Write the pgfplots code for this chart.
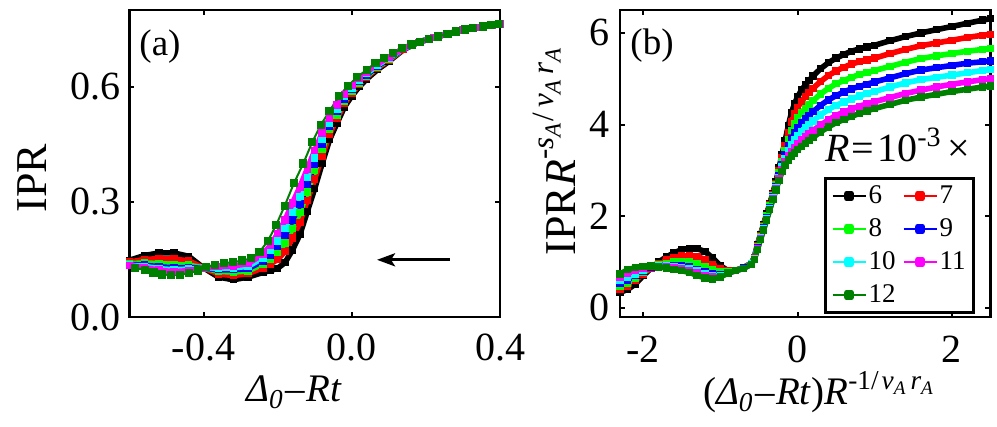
\documentclass[border=0pt]{standalone}
\usepackage{fontspec}
\setmainfont{Liberation Serif}
\usepackage{pgfplots}
\pgfplotsset{compat=1.18}
\usepackage{pgfplotstable}
\usetikzlibrary{arrows.meta}
\definecolor{dkg}{rgb}{0,0.5,0}
\definecolor{lgr}{rgb}{0,1,0}
\definecolor{cy}{rgb}{0,1,1}
\definecolor{mg}{rgb}{1,0,1}
\definecolor{rd}{rgb}{1,0,0}
\definecolor{bl}{rgb}{0,0,1}

\pgfplotstableread{
x b r g bl c m
-0.60 .148 .143 .139 .137 .135 .134
-0.56 .160 .150 .141 .135 .132 .129
-0.52 .167 .152 .139 .131 .126 .122
-0.48 .167 .151 .137 .128 .123 .118
-0.44 .158 .146 .135 .129 .125 .121
-0.40 .128 .128 .128 .127 .127 .127
-0.36 .104 .112 .119 .123 .127 .131
-0.32 .097 .108 .117 .123 .128 .133
-0.28 .104 .113 .120 .126 .132 .139
-0.24 .116 .128 .138 .146 .154 .163
-0.22 .121 .138 .151 .162 .173 .186
-0.20 .127 .150 .168 .184 .198 .217
-0.18 .142 .171 .193 .213 .231 .253
-0.16 .175 .206 .231 .253 .272 .297
-0.14 .215 .247 .272 .293 .314 .339
-0.12 .275 .304 .326 .346 .364 .386
-0.10 .335 .360 .381 .398 .414 .434
-0.08 .400 .420 .436 .450 .463 .479
-0.06 .462 .476 .488 .497 .506 .518
-0.04 .505 .517 .526 .535 .542 .552
-0.02 .547 .556 .562 .568 .574 .580
0.00 .576 .583 .588 .593 .597 .603
0.02 .600 .606 .610 .614 .617 .621
0.04 .620 .625 .628 .631 .634 .638
0.07 .645 .649 .652 .654 .657 .660
0.10 .666 .669 .671 .673 .675 .677
0.14 .697 .698 .699 .699 .700 .701
0.18 .716 .716 .716 .716 .716 .716
0.22 .728 .728 .728 .728 .728 .728
0.26 .738 .738 .738 .738 .738 .738
0.30 .748 .748 .748 .748 .748 .748
0.34 .755 .755 .755 .755 .755 .755
0.38 .761 .761 .761 .761 .761 .761
0.40 .764 .764 .764 .764 .764 .764
}\lefttab

\pgfplotstableread{
x b r g bl c m k
-2.3 .34 .41 .47 .54 .59 .67 .74
-2.2 .40 .48 .54 .61 .67 .75 .83
-2.1 .52 .59 .64 .70 .74 .82 .88
-2.0 .70 .74 .77 .80 .82 .86 .90
-1.9 .86 .87 .88 .89 .90 .90 .91
-1.8 1.00 .97 .94 .92 .91 .90 .89
-1.7 1.11 1.04 .97 .93 .91 .89 .87
-1.6 1.20 1.09 1.00 .92 .89 .87 .84
-1.5 1.27 1.13 1.01 .92 .88 .85 .81
-1.4 1.30 1.14 1.00 .89 .85 .81 .77
-1.3 1.29 1.12 .96 .84 .80 .76 .71
-1.2 1.23 1.06 .90 .78 .74 .70 .65
-1.1 1.09 .95 .83 .74 .70 .67 .63
-1.0 .92 .85 .78 .73 .71 .69 .67
-0.9 .81 .80 .78 .77 .77 .76 .76
-0.8 .82 .82 .82 .81 .81 .81 .81
-0.7 .88 .88 .87 .87 .86 .86 .86
-0.6 .97 .97 .96 .96 .96 .95 .95
-0.56 1.10 1.09 1.08 1.08 1.07 1.06 1.06
-0.52 1.38 1.36 1.34 1.32 1.30 1.28 1.27
-0.48 1.60 1.58 1.56 1.54 1.52 1.50 1.49
-0.44 1.82 1.80 1.77 1.75 1.73 1.71 1.70
-0.40 2.05 2.02 2.00 1.97 1.95 1.93 1.92
-0.36 2.27 2.24 2.22 2.19 2.17 2.15 2.14
-0.32 2.50 2.47 2.44 2.42 2.40 2.38 2.36
-0.28 2.75 2.71 2.68 2.65 2.62 2.59 2.57
-0.24 3.05 3.00 2.94 2.89 2.85 2.81 2.78
-0.20 3.35 3.27 3.20 3.13 3.07 3.01 2.97
-0.16 3.65 3.54 3.44 3.34 3.26 3.18 3.12
-0.12 3.97 3.82 3.67 3.54 3.43 3.31 3.23
-0.08 4.25 4.06 3.87 3.70 3.56 3.41 3.31
-0.04 4.45 4.24 4.02 3.83 3.67 3.50 3.38
0.00 4.60 4.37 4.14 3.93 3.76 3.58 3.45
0.05 4.75 4.50 4.26 4.04 3.85 3.66 3.52
0.10 4.86 4.61 4.35 4.12 3.93 3.73 3.59
0.15 4.96 4.70 4.44 4.20 4.00 3.79 3.65
0.20 5.06 4.79 4.52 4.28 4.08 3.87 3.72
0.30 5.22 4.94 4.67 4.42 4.21 3.99 3.84
0.40 5.35 5.07 4.79 4.54 4.33 4.10 3.95
0.50 5.45 5.17 4.89 4.63 4.42 4.20 4.04
0.60 5.53 5.25 4.96 4.71 4.49 4.27 4.11
0.70 5.60 5.32 5.03 4.78 4.56 4.34 4.18
0.80 5.65 5.37 5.09 4.83 4.62 4.40 4.24
0.90 5.69 5.41 5.13 4.88 4.68 4.45 4.30
1.00 5.73 5.45 5.18 4.93 4.72 4.50 4.35
1.20 5.83 5.55 5.27 5.02 4.82 4.59 4.44
1.40 5.92 5.64 5.36 5.11 4.91 4.68 4.53
1.60 6.00 5.72 5.44 5.19 4.98 4.75 4.60
1.80 6.07 5.78 5.50 5.24 5.03 4.82 4.66
2.00 6.14 5.84 5.55 5.29 5.08 4.88 4.72
2.20 6.21 5.90 5.60 5.34 5.13 4.93 4.77
2.40 6.28 5.95 5.64 5.37 5.18 4.98 4.82
2.50 6.31 5.97 5.66 5.39 5.20 5.00 4.84
}\righttab

\pgfplotsset{
  panel/.style={
    scale only axis, width=185.25pt, height=153.5pt, anchor=south west,
    axis line style={line width=1.4pt},
    major tick length=2.5pt,
    every tick/.style={black, line width=1pt},
    tick label style={font=\fontsize{20}{24}\selectfont, inner sep=0pt},
  },
  band/.style={line width=2.8pt, line join=round, mark=square*, mark size=1.6pt, mark options={line width=0pt}},
}

\newcommand{\subA}{\raisebox{-0.22em}{\fontsize{11.5}{13}\selectfont\textit{A}}}

\begin{document}
\begin{tikzpicture}
\useasboundingbox (0,0) rectangle (498.5pt,213.5pt);

\begin{axis}[panel, at={(64.75pt,55pt)},
  xmin=-0.6, xmax=0.4, ymin=0, ymax=0.8,
  xtick={-0.4,0,0.4}, xticklabels={-0.4,0.0,0.4},
  ytick={0,0.3,0.6}, yticklabels={0.0,0.3,0.6},
  xticklabel style={yshift=-8.5pt}, yticklabel style={xshift=-4.2pt}]
\addplot[black, band] table[x=x,y=b]{\lefttab};
\addplot[rd, band] table[x=x,y=r]{\lefttab};
\addplot[lgr, band] table[x=x,y=g]{\lefttab};
\addplot[bl, band] table[x=x,y=bl]{\lefttab};
\addplot[cy, band] table[x=x,y=c]{\lefttab};
\addplot[mg, band] table[x=x,y=m]{\lefttab};
\addplot[dkg, line width=1pt, mark=square*, mark size=1.8pt, mark options={line width=0pt}] coordinates {
(-0.586,0.128) (-0.559,0.123) (-0.535,0.116) (-0.512,0.111) (-0.487,0.109) (-0.463,0.110)
(-0.440,0.114) (-0.415,0.121) (-0.393,0.130) (-0.370,0.136) (-0.345,0.140) (-0.321,0.143)
(-0.296,0.147) (-0.271,0.153) (-0.249,0.169) (-0.226,0.199) (-0.204,0.240) (-0.181,0.290)
(-0.156,0.349) (-0.131,0.400) (-0.107,0.455) (-0.084,0.500) (-0.060,0.537) (-0.035,0.575)
(-0.010,0.603) (0.015,0.625) (0.040,0.644) (0.064,0.662) (0.087,0.674) (0.112,0.688)
(0.136,0.700) (0.161,0.710) (0.184,0.717) (0.209,0.725) (0.233,0.731) (0.258,0.738)
(0.281,0.744) (0.305,0.749) (0.328,0.753) (0.353,0.757) (0.376,0.760) (0.398,0.764)};
\draw[line width=1.5pt, -{Stealth[length=9pt,width=6.5pt,inset=2pt]}] (axis cs:0.265,0.149) -- (axis cs:0.068,0.149);
\end{axis}

\begin{axis}[panel, at={(310pt,55pt)},
  xmin=-2.3, xmax=2.5, ymin=-0.2, ymax=6.5,
  xtick={-2,0,2}, xticklabels={-2,0,2},
  ytick={0,2,4,6}, yticklabels={0,2,4,6},
  xticklabel style={yshift=-9.5pt}, yticklabel style={xshift=-5pt},
  legend columns=2,
  legend cell align=left,
  legend style={at={(0.551,0.456)}, anchor=north west, draw=black, line width=1.5pt, fill=white,
    inner xsep=3pt, inner ysep=0.5pt, font=\fontsize{13.5}{16}\selectfont,
    nodes={inner xsep=1pt, inner ysep=1.75pt, text height=10pt, text depth=3pt},
    /tikz/every even column/.append style={column sep=2.5pt}},
  legend image code/.code={\draw[#1,line width=1pt] (0pt,0pt) -- (16.5pt,0pt);
    \fill[#1] (7pt,-1.1pt) rectangle (9.5pt,1.1pt);}]
\addplot[black, band] table[x=x,y=b]{\righttab};
\addplot[rd, band] table[x=x,y=r]{\righttab};
\addplot[lgr, band] table[x=x,y=g]{\righttab};
\addplot[bl, band] table[x=x,y=bl]{\righttab};
\addplot[cy, band] table[x=x,y=c]{\righttab};
\addplot[mg, band] table[x=x,y=m]{\righttab};
\addplot[dkg, band] table[x=x,y=k]{\righttab};
\legend{6,7,8,9,10,11,12}
\end{axis}

% labels
\node[rotate=90, font=\fontsize{22}{26}\selectfont] at (16pt,124.5pt) {IPR};
\node[anchor=base, font=\fontsize{19.5}{23}\selectfont] at (147pt,12.5pt)
  {\textit{Δ\textsubscript{0}}\hspace{1pt}–\hspace{0.5pt}\textit{Rt}};
\node[rotate=90, anchor=base, font=\fontsize{22}{26}\selectfont] at (287.5pt,137.5pt)
  {IPR\textit{R}\raisebox{0.48em}{\fontsize{15.5}{18}\selectfont -\textit{s}\subA\hspace{1pt}/\hspace{2.5pt}\textit{ν}\subA\hspace{2.5pt}\textit{r}\subA}};
\node[anchor=base, font=\fontsize{19.5}{23}\selectfont] at (409.5pt,11pt)
  {(\textit{Δ\textsubscript{0}}\hspace{1pt}–\hspace{0.5pt}\textit{Rt})\textit{R}\textsuperscript{-1/\hspace{1.5pt}\textit{ν}\textsubscript{\textit{A}}\hspace{2pt}\textit{r}\textsubscript{\textit{A}}}};
\node[font=\fontsize{18.5}{22}\selectfont] at (80pt,190pt) {(a)};
\node[font=\fontsize{18.5}{22}\selectfont] at (326pt,190.5pt) {(b)};
\node[anchor=base west, inner sep=0pt, font=\fontsize{20}{24}\selectfont] at (412.5pt,132.5pt)
  {\textit{R}\hspace{1pt}=\hspace{1.5pt}10\textsuperscript{-3}\hspace{3pt}×};
\end{tikzpicture}
\end{document}
